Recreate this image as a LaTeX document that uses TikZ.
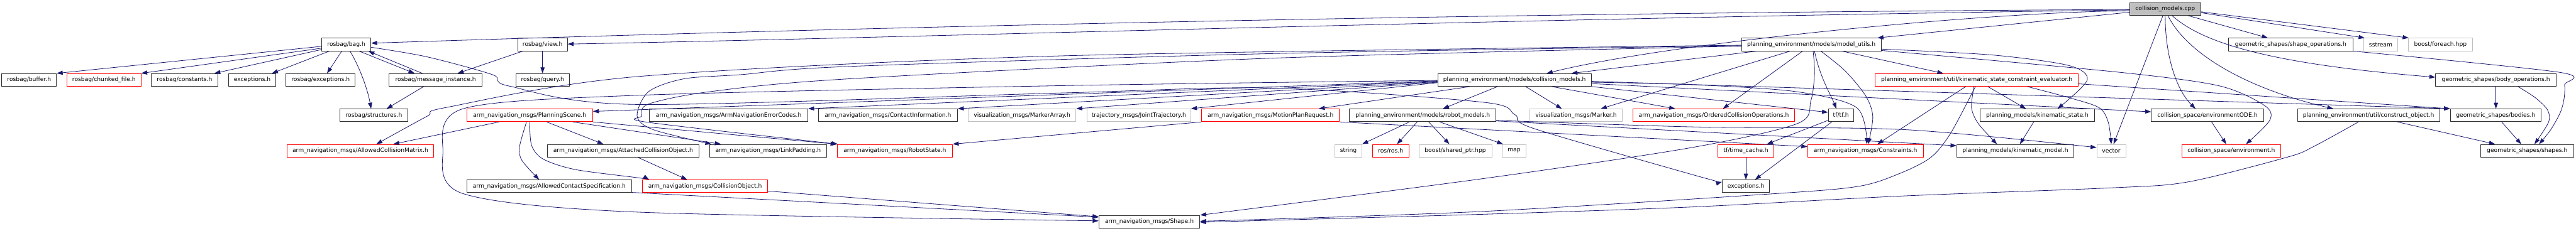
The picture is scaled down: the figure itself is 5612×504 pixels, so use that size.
\documentclass[tikz,border=0pt]{standalone}
\usepackage{fontspec}
\setmainfont{DejaVu Sans}
\usetikzlibrary{calc,arrows.meta}
\definecolor{edgecol}{HTML}{191970}
\definecolor{greyb}{HTML}{BFBFBF}
\definecolor{boxb}{HTML}{303030}
\begin{document}
\begin{tikzpicture}[x=1pt,y=-1pt,
  bx/.style={draw=boxb, line width=1.2pt, fill=white, minimum height=27.7pt, inner sep=0pt, font=\fontsize{12.6}{14}\selectfont},
  gb/.style={bx, draw=greyb},
  rb/.style={bx, draw=red},
  dep/.style={draw=edgecol, line width=1.1pt, -{Triangle[length=13pt,width=9pt]}}]
\path[fill=white] (0,0) rectangle (5612,504);
\useasboundingbox (0,0) rectangle (5612,504);
% row 0
\node[bx, minimum width=154pt, fill=greyb] (cpp) at (4717,19.7) {collision\_models.cpp};
% row 1
\node[bx, minimum width=107pt] (bag) at (754.5,97.2) {rosbag/bag.h};
\node[bx, minimum width=108pt] (view) at (1182,97.2) {rosbag/view.h};
\node[bx, minimum width=304pt] (mutils) at (3946,97.2) {planning\_environment/models/model\_utils.h};
\node[bx, minimum width=271pt] (shapeops) at (4990.5,97.2) {geometric\_shapes/shape\_operations.h};
\node[gb, minimum width=75pt] (sstream) at (5186.5,97.2) {sstream};
\node[gb, minimum width=139pt] (foreach) at (5316.5,97.2) {boost/foreach.hpp};
% row 2
\node[bx, minimum width=119pt] (buffer) at (63.5,174.5) {rosbag/buffer.h};
\node[rb, minimum width=161pt] (chunked) at (226.5,174.5) {rosbag/chunked\_file.h};
\node[bx, minimum width=146pt] (constants) at (402,174.5) {rosbag/constants.h};
\node[bx, minimum width=103pt] (exca) at (549.5,174.5) {exceptions.h};
\node[bx, minimum width=151pt] (rbexc) at (698.5,174.5) {rosbag/exceptions.h};
\node[bx, minimum width=202pt] (msginst) at (949,174.5) {rosbag/message\_instance.h};
\node[bx, minimum width=116pt] (query) at (1182,174.5) {rosbag/query.h};
\node[bx, minimum width=335pt] (cmodels) at (3299.5,174.5) {planning\_environment/models/collision\_models.h};
\node[rb, minimum width=443pt] (kscev) at (4306.5,174.5) {planning\_environment/util/kinematic\_state\_constraint\_evaluator.h};
\node[bx, minimum width=263pt] (bodyops) at (5437.5,174.5) {geometric\_shapes/body\_operations.h};
% row 3
\node[bx, minimum width=147pt] (structures) at (814.5,251.7) {rosbag/structures.h};
\node[rb, minimum width=274pt] (pscene) at (1154,251.7) {arm\_navigation\_msgs/PlanningScene.h};
\node[bx, minimum width=345pt] (errcodes) at (1587.5,251.7) {arm\_navigation\_msgs/ArmNavigationErrorCodes.h};
\node[bx, minimum width=303pt] (contact) at (1934.5,251.7) {arm\_navigation\_msgs/ContactInformation.h};
\node[gb, minimum width=235pt] (markerarr) at (2226.5,251.7) {visualization\_msgs/MarkerArray.h};
\node[gb, minimum width=226pt] (jtraj) at (2481,251.7) {trajectory\_msgs/JointTrajectory.h};
\node[rb, minimum width=300pt] (mpr) at (2768,251.7) {arm\_navigation\_msgs/MotionPlanRequest.h};
\node[bx, minimum width=319pt] (rmodels) at (3099.5,251.7) {planning\_environment/models/robot\_models.h};
\node[gb, minimum width=201pt] (marker) at (3433.5,251.7) {visualization\_msgs/Marker.h};
\node[rb, minimum width=353pt] (oco) at (3733.5,251.7) {arm\_navigation\_msgs/OrderedCollisionOperations.h};
\node[bx, minimum width=55pt] (tf) at (4010.5,251.7) {tf/tf.h};
\node[bx, minimum width=249pt] (kstate) at (4438.5,251.7) {planning\_models/kinematic\_state.h};
\node[bx, minimum width=244pt] (envode) at (4809,251.7) {collision\_space/environmentODE.h};
\node[bx, minimum width=310pt] (cobj) at (5160,251.7) {planning\_environment/util/construct\_object.h};
\node[bx, minimum width=198pt] (bodies) at (5437,251.7) {geometric\_shapes/bodies.h};
% row 4
\node[rb, minimum width=318pt] (acm) at (785,329) {arm\_navigation\_msgs/AllowedCollisionMatrix.h};
\node[bx, minimum width=331pt] (attached) at (1357.5,329) {arm\_navigation\_msgs/AttachedCollisionObject.h};
\node[bx, minimum width=255pt] (linkpad) at (1673.5,329) {arm\_navigation\_msgs/LinkPadding.h};
\node[rb, minimum width=251pt] (robotstate) at (1949.5,329) {arm\_navigation\_msgs/RobotState.h};
\node[gb, minimum width=59pt] (string) at (2937.5,329) {string};
\node[rb, minimum width=79pt] (ros) at (3029.5,329) {ros/ros.h};
\node[gb, minimum width=159pt] (sharedptr) at (3170.5,329) {boost/shared\_ptr.hpp};
\node[gb, minimum width=51pt] (map) at (3298.5,329) {map};
\node[rb, minimum width=121pt] (timecache) at (3803.5,329) {tf/time\_cache.h};
\node[rb, minimum width=252pt] (constraints) at (4064,329) {arm\_navigation\_msgs/Constraints.h};
\node[bx, minimum width=255pt] (kmodel) at (4390.5,329) {planning\_models/kinematic\_model.h};
\node[gb, minimum width=63pt] (vector) at (4599.5,329) {vector};
\node[rb, minimum width=216pt] (env) at (4861,329) {collision\_space/environment.h};
\node[bx, minimum width=203pt] (shapes) at (5505.5,329) {geometric\_shapes/shapes.h};
% row 5
\node[bx, minimum width=359pt] (acs) at (1196.5,406.5) {arm\_navigation\_msgs/AllowedContactSpecification.h};
\node[rb, minimum width=272pt] (collobj) at (1536,406.5) {arm\_navigation\_msgs/CollisionObject.h};
\node[bx, minimum width=103pt] (excb) at (3803.5,406.5) {exceptions.h};
% row 6
\node[bx, minimum width=220pt] (shape) at (2504,484) {arm\_navigation\_msgs/Shape.h};

% ---- edges from collision_models.cpp
\draw[dep] ([yshift=-1pt]cpp.west) .. controls (3300,28) and (2000,55) .. ([yshift=3pt]bag.east);
\draw[dep] ([yshift=-2pt]cpp.west) .. controls (3300,40) and (2000,82) .. ([yshift=1pt]view.east);
\draw[dep] ([yshift=-4pt]cpp.west) .. controls (4350,25) and (3650,90) .. ([xshift=70pt]cmodels.north);
\draw[dep] ([yshift=-7pt]cpp.west) -- ([xshift=144pt]mutils.north);
\draw[dep] ([xshift=50pt]cpp.south) -- ([xshift=-50pt]shapeops.north);
\draw[dep] ([yshift=-8pt]cpp.east) -- ([xshift=3pt]sstream.north west);
\draw[dep] ([yshift=-6pt]cpp.east) -- ([xshift=1pt]foreach.north west);
\draw[dep] ([xshift=15pt]cpp.south) .. controls (4800,95) and (4950,140) .. ([yshift=6pt]bodyops.west);
\draw[dep] ([xshift=6pt]cpp.south) .. controls (4760,110) and (4880,190) .. ([xshift=-77pt]cobj.north);
\draw[dep] (cpp.south) .. controls (4717,130) and (4745,200) .. ([xshift=-26pt]envode.north);
\draw[dep] ([xshift=-5pt]cpp.south) -- ([xshift=5pt]vector.north);

% ---- rosbag
\draw[dep] ([yshift=-4pt]bag.west) -- (buffer.north east);
\draw[dep] ([yshift=-8pt]bag.west) -- (chunked.north east);
\draw[dep] ([yshift=-11pt]bag.west) -- ([xshift=65pt]constants.north);
\draw[dep] ([xshift=-37pt]bag.south) -- ([xshift=43pt]exca.north);
\draw[dep] ([xshift=-10pt]bag.south) -- ([xshift=14pt]rbexc.north);
\draw[dep] ([xshift=8pt]bag.south) .. controls (780,140) and (800,190) .. ([xshift=-6pt]structures.north);
\draw[dep] ([xshift=28pt]bag.south) -- ([xshift=-46pt]msginst.north);
\draw[dep] ([xshift=-29pt]msginst.north) -- ([xshift=48pt]bag.south);
\draw[dep] ([xshift=-26pt]msginst.south) -- ([xshift=28pt]structures.north);
\draw[dep] ([xshift=-43pt]view.south) -- ([xshift=48pt]msginst.north);
\draw[dep] (view.south) -- (query.north);
\draw[dep] plot[smooth, tension=0.5] coordinates {([yshift=-6pt]bag.east) (930,124) (1073,163) (1110,188) (1390,228) (2310,203) (2770,192) (3230,223) (3300,250) (3340,280) (3690,382) ([yshift=9.5pt]excb.west)};

% ---- model_utils
\draw[dep] plot[smooth, tension=0.5] coordinates {([yshift=-1.5pt]mutils.west) (2310,122) (1390,167) (975,234) (930,254) ([xshift=35pt]acm.north)};
\draw[dep] plot[smooth, tension=0.5] coordinates {([yshift=-2.5pt]mutils.west) (2770,117) (1850,145) (1613,163) (1490,172) (1413,200) (1388,253) (1423,283) ([xshift=-124pt]linkpad.north)};
\draw[dep] plot[smooth, tension=0.5] coordinates {([yshift=-3.5pt]mutils.west) (2770,127) (1850,172) (1547,200) (1413,227) (1398,253) (1412,267) ([xshift=2pt]robotstate.north west)};
\draw[dep] ([xshift=-119pt]mutils.south) -- ([xshift=124pt]cmodels.north);
\draw[dep] ([xshift=-46pt]mutils.south) -- ([xshift=54pt]marker.north);
\draw[dep] ([xshift=-19pt]mutils.south) -- ([xshift=20pt]oco.north);
\draw[dep] ([xshift=7pt]mutils.south) .. controls (3965,170) and (3990,210) .. ([xshift=-10pt]tf.north);
\draw[dep] plot[smooth, tension=0.5] coordinates {([xshift=4pt]mutils.south) (3953,160) (3945,220) (3915,270) (3680,323) (3230,390) (shape.north east)};
\draw[dep] plot[smooth, tension=0.5] coordinates {([xshift=21pt]mutils.south) (4020,155) (4065,210) (4080,255) ([xshift=6pt]constraints.north)};
\draw[dep] ([xshift=67pt]mutils.south) -- ([xshift=-73pt]kscev.north);
\draw[dep] plot[smooth, tension=0.5] coordinates {([yshift=-10pt]mutils.east) (4340,120) (4507,143) (4547,175) ([xshift=44pt]kstate.north)};
\draw[dep] plot[smooth, tension=0.5] coordinates {([yshift=-13pt]mutils.east) (4610,157) (4833,187) (4933,230) (4945,262) ([xshift=32pt]env.north)};

% ---- collision_models.h
\draw[dep] ([yshift=-2pt]cmodels.west) -- ([yshift=8.5pt]pscene.east);
\draw[dep] ([yshift=-3pt]cmodels.west) -- (errcodes.north east);
\draw[dep] ([yshift=-4pt]cmodels.west) -- (contact.north east);
\draw[dep] ([yshift=-5pt]cmodels.west) -- (markerarr.north east);
\draw[dep] ([yshift=-6pt]cmodels.west) -- (jtraj.north east);
\draw[dep] plot[smooth, tension=0.5] coordinates {([yshift=-1pt]cmodels.west) (2310,187) (1390,208) (1010,237) (965,330) (1010,423) (1390,463) ([yshift=2pt]shape.west)};
\draw[dep] ([xshift=-97pt]cmodels.south) -- ([xshift=105pt]mpr.north);
\draw[dep] ([xshift=-37pt]cmodels.south) -- ([xshift=44pt]rmodels.north);
\draw[dep] ([xshift=24pt]cmodels.south) -- ([xshift=-31pt]marker.north);
\draw[dep] ([xshift=81pt]cmodels.south) -- ([xshift=-84pt]oco.north);
\draw[dep] (cmodels.south east) -- ([yshift=6.5pt]tf.west);
\draw[dep] plot[smooth, tension=0.5] coordinates {([yshift=-5pt]cmodels.east) (3690,185) (3913,200) (4045,235) ([xshift=3pt]constraints.north)};
\draw[dep] ([yshift=-3pt]cmodels.east) -- (bodies.north west);
\draw[dep] ([yshift=-8pt]cmodels.east) -- ([yshift=7.7pt]envode.west);

% ---- kinematic_state_constraint_evaluator.h
\draw[dep] ([xshift=24pt]kscev.south) -- ([xshift=-25pt]kstate.north);
\draw[dep] plot[smooth, tension=0.5] coordinates {([xshift=-6pt]kscev.south) (4295,235) (4310,270) ([xshift=-40pt]kmodel.north)};
\draw[dep] ([xshift=-24pt]kscev.south) -- ([xshift=26pt]constraints.north);
\draw[dep] plot[smooth, tension=0.5] coordinates {([xshift=-3pt]kscev.south) (4250,290) (4207,343) (4140,378) (4047,407) (3847,424) (3220,462) ([yshift=1pt]shape.east)};
\draw[dep] plot[smooth, tension=0.5] coordinates {([xshift=110pt]kscev.south) (4507,213) (4573,235) (4593,267) (vector.north)};
\draw[dep] ([yshift=-8.5pt]kscev.east) -- (bodies.north west);

% ---- robot_models.h
\draw[dep] ([xshift=-29pt]rmodels.south) -- (string.north east);
\draw[dep] ([xshift=-12pt]rmodels.south) -- ([xshift=14pt]ros.north);
\draw[dep] ([xshift=13pt]rmodels.south) -- ([xshift=-13pt]sharedptr.north);
\draw[dep] ([xshift=37pt]rmodels.south) -- ([xshift=2pt]map.north west);
\draw[dep] plot[smooth, tension=0.5] coordinates {([yshift=-11pt]rmodels.east) (3690,277) (4150,283) ([yshift=7pt]vector.west)};
\draw[dep] ([yshift=-12.3pt]rmodels.east) -- ([yshift=11pt]kmodel.west);

% ---- MotionPlanRequest / PlanningScene
\draw[dep] (mpr.south west) -- (robotstate.north east);
\draw[dep] (mpr.south east) -- ([yshift=9pt]constraints.west);
\draw[dep] ([xshift=-67pt]pscene.south) -- ([xshift=72pt]acm.north);
\draw[dep] plot[smooth, tension=0.5] coordinates {([xshift=-7pt]pscene.south) (1132,320) (1137,350) ([xshift=-22pt]acs.north)};
\draw[dep] ([xshift=37pt]pscene.south) -- ([xshift=-43pt]attached.north);
\draw[dep] plot[smooth, tension=0.5] coordinates {(pscene.south) (1158,317) (1183,347) (1253,370) (1390,388) ([xshift=-122pt]collobj.north)};
\draw[dep] ([xshift=94pt]pscene.south) -- ([xshift=-103pt]linkpad.north);
\draw[dep] (pscene.south east) -- ([xshift=-1pt]robotstate.north west);
\draw[dep] ([xshift=32pt]attached.south) -- ([xshift=-39pt]collobj.north);
\draw[dep] ([yshift=-13.5pt]acs.east) -- ([yshift=10pt]shape.west);
\draw[dep] ([yshift=-10.5pt]collobj.east) -- ([yshift=11pt]shape.west);

% ---- tf, kinematic, collision space, shapes
\draw[dep] ([yshift=-11pt]tf.west) -- ([xshift=46pt]timecache.north);
\draw[dep] ([xshift=-20pt]tf.south) -- ([xshift=20pt]excb.north);
\draw[dep] (timecache.south) -- (excb.north);
\draw[dep] ([xshift=-8pt]kstate.south) -- ([xshift=10pt]kmodel.north);
\draw[dep] ([xshift=9pt]envode.south) -- ([xshift=-11pt]env.north);
\draw[dep] (bodyops.south) -- ([xshift=0.5pt]bodies.north);
\draw[dep] plot[smooth, tension=0.5] coordinates {([xshift=48pt]bodyops.south) (5523,213) (5550,240) (5552,267) ([xshift=16pt]shapes.north)};
\draw[dep] ([xshift=13pt]bodies.south) -- ([xshift=-13pt]shapes.north);
\draw[dep] plot[smooth, tension=0.5] coordinates {(shapeops.south east) (5577,158) (5587,185) (5586,215) (5578,245) (5557,283) ([xshift=26pt]shapes.north)};
\draw[dep] ([xshift=63pt]cobj.south) -- ([xshift=-70pt]shapes.north);
\draw[dep] plot[smooth, tension=0.5] coordinates {([xshift=-22pt]cobj.south) (5040,320) (4983,343) (4767,397) (4600,410) (4140,428) (3680,452) (3220,468) ([yshift=-1pt]shape.east)};
\end{tikzpicture}
\end{document}
